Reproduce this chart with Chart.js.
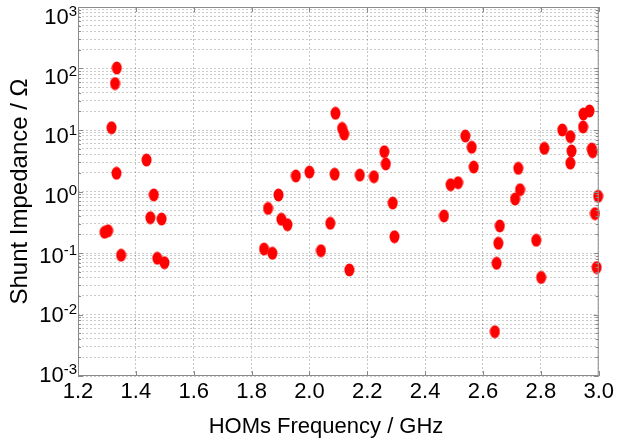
<!DOCTYPE html>
<html>
<head>
<meta charset="utf-8">
<script src="https://cdn.jsdelivr.net/npm/chart.js@4.4.1/dist/chart.umd.min.js"></script>
<style>
    body { margin: 0; background: #fff; }
    #wrap { width: 617px; height: 443px; }
</style>
</head>
<body>
<div id="wrap"><canvas id="homChart" width="617" height="443"></canvas></div>
<script>
// HOM frequencies (GHz) and their shunt impedances (Ohm)
var freqGHz = [
    1.292, 1.304, 1.316, 1.328, 1.333, 1.334, 1.349, 1.437, 1.450, 1.462,
    1.474, 1.489, 1.499, 1.843, 1.857, 1.872, 1.893, 1.903, 1.924, 1.953,
    2.000, 2.040, 2.072, 2.087, 2.090, 2.113, 2.120, 2.138, 2.174, 2.223,
    2.259, 2.264, 2.288, 2.294, 2.465, 2.488, 2.514, 2.539, 2.561, 2.568,
    2.641, 2.647, 2.653, 2.658, 2.711, 2.722, 2.728, 2.784, 2.801, 2.812,
    2.874, 2.902, 2.902, 2.906, 2.946, 2.947, 2.968, 2.976, 2.979, 2.987,
    2.993, 2.998
];
var shuntOhm = [
    0.217, 0.23, 10.9, 57, 1.98, 102, 0.092, 3.25, 0.375, 0.88,
    0.082, 0.357, 0.0695, 0.116, 0.53, 0.099, 0.877, 0.353, 0.288, 1.79,
    2.07, 0.109, 0.304, 1.91, 18.7, 10.6, 8.6, 0.053, 1.85, 1.74,
    4.43, 2.8, 0.65, 0.184, 0.40, 1.29, 1.39, 7.98, 5.24, 2.5,
    0.00525, 0.068, 0.144, 0.275, 0.755, 2.38, 1.07, 0.161, 0.040, 5.03,
    10.0, 7.8, 2.9, 4.56, 11.2, 18.2, 20.4, 4.9, 4.43, 0.436,
    0.058, 0.836
];

var xTicks = [1.2, 1.4, 1.6, 1.8, 2.0, 2.2, 2.4, 2.6, 2.8, 3.0];
var yDecades = [-3, -2, -1, 0, 1, 2, 3];
var yMinorSteps = [2, 3, 4, 5, 6, 7, 8, 9];

var FONT = "'Liberation Sans', Arial, sans-serif";

function buildLogTicks() {
    var vals = [];
    yDecades.forEach(function (e) {
        vals.push({ value: Math.pow(10, e), major: true });
        if (e < yDecades[yDecades.length - 1]) {
            yMinorSteps.forEach(function (m) {
                vals.push({ value: m * Math.pow(10, e), major: false });
            });
        }
    });
    return vals;
}

// filled red ellipse used as the marker
function makeMarker() {
    var c = document.createElement("canvas");
    c.width = 11;
    c.height = 14;
    var g = c.getContext("2d");
    g.fillStyle = "#ff0000";
    g.beginPath();
    g.ellipse(5.5, 7, 5, 6.4, 0, 0, Math.PI * 2);
    g.fill();
    return c;
}

// frame, inward ticks, power-of-ten labels and axis titles
var axesDecor = {
    id: "axesDecor",
    afterDraw: function (chart) {
        var ctx = chart.ctx;
        var a = chart.chartArea;
        var xs = chart.scales.x;
        var ys = chart.scales.y;
        ctx.save();

        ctx.strokeStyle = "#8a8a8a";
        ctx.lineWidth = 1;
        ctx.strokeRect(a.left + 0.5, a.top + 0.5, a.right - a.left - 1, a.bottom - a.top - 1);

        ctx.beginPath();
        xTicks.forEach(function (v) {
            var px = Math.round(xs.getPixelForValue(v)) + 0.5;
            ctx.moveTo(px, a.bottom);
            ctx.lineTo(px, a.bottom - 5);
            ctx.moveTo(px, a.top);
            ctx.lineTo(px, a.top + 5);
        });
        ys.ticks.forEach(function (t) {
            var len = t.major ? 5 : 3;
            var py = Math.round(ys.getPixelForValue(t.value)) + 0.5;
            ctx.moveTo(a.left, py);
            ctx.lineTo(a.left + len, py);
            ctx.moveTo(a.right, py);
            ctx.lineTo(a.right - len, py);
        });
        ctx.stroke();

        // labels sit on a band a little shorter than the axis so the top one stays inside
        ctx.fillStyle = "#000";
        var span = a.bottom - a.top;
        yDecades.forEach(function (e) {
            var py = ys.getPixelForValue(Math.pow(10, e));
            var ly = a.top + 11 + (py - a.top) * (span - 11) / span;
            var base = "10";
            var sup = String(e);
            ctx.font = "22px " + FONT;
            var wBase = ctx.measureText(base).width;
            ctx.font = "15px " + FONT;
            var wSup = ctx.measureText(sup).width;
            var right = a.left - 1;
            ctx.textAlign = "left";
            ctx.textBaseline = "middle";
            ctx.font = "22px " + FONT;
            ctx.fillText(base, right - wSup - wBase, ly);
            ctx.textBaseline = "alphabetic";
            ctx.font = "15px " + FONT;
            ctx.fillText(sup, right - wSup, ly - 2);
        });

        ctx.font = "22px " + FONT;
        ctx.textAlign = "center";
        ctx.textBaseline = "alphabetic";
        ctx.fillText("HOMs Frequency / GHz", 326, 433);

        ctx.font = "24px " + FONT;
        ctx.translate(27, (a.top + a.bottom) / 2);
        ctx.rotate(-Math.PI / 2);
        ctx.fillText("Shunt Impedance / \u03A9", 0, 0);
        ctx.restore();
    }
};

function initHomChart() {
    var canvas = document.getElementById("homChart");
    var points = freqGHz.map(function (f, i) { return { x: f, y: shuntOhm[i] }; });
    var logTicks = buildLogTicks();

    new Chart(canvas, {
        type: "scatter",
        data: {
            datasets: [
                {
                    label: "Shunt impedance",
                    data: points,
                    pointStyle: makeMarker(),
                    pointRadius: 6,
                    clip: false,
                },
            ],
        },
        options: {
            responsive: false,
            animation: false,
            layout: { padding: { top: 7, right: 15, left: 0, bottom: 0 } },
            plugins: {
                legend: { display: false },
                tooltip: { enabled: false },
            },
            scales: {
                x: {
                    type: "linear",
                    min: 1.2,
                    max: 3.0,
                    afterBuildTicks: function (scale) {
                        scale.ticks = xTicks.map(function (v) { return { value: v }; });
                    },
                    afterFit: function (scale) { scale.height = 67; },
                    ticks: {
                        padding: 3,
                        color: "#000",
                        font: { family: FONT, size: 22 },
                        maxRotation: 0,
                        autoSkip: false,
                        callback: function (v) { return Number(v).toFixed(1); },
                    },
                    grid: { color: "rgba(0,0,0,0.22)", drawTicks: false },
                    border: { display: false, dash: [2, 2] },
                },
                y: {
                    type: "logarithmic",
                    min: 1e-3,
                    max: 1e3,
                    afterBuildTicks: function (scale) {
                        scale.ticks = logTicks.map(function (t) { return { value: t.value, major: t.major }; });
                    },
                    afterFit: function (scale) { scale.width = 78; },
                    ticks: { display: false },
                    grid: { color: "rgba(0,0,0,0.2)", drawTicks: false },
                    border: { display: false, dash: [2, 2] },
                },
            },
        },
        plugins: [axesDecor],
    });
}

initHomChart();
</script>
</body>
</html>
